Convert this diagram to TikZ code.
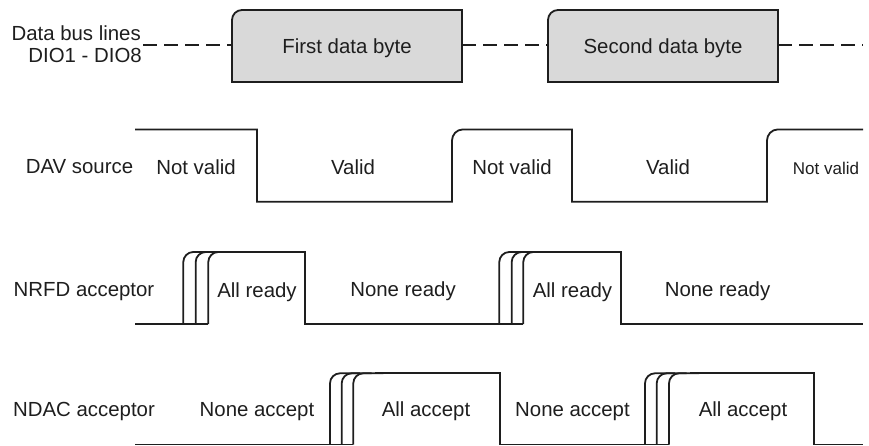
\documentclass[tikz,border=0pt]{standalone}
\usepackage{fontspec}
\setmainfont{Liberation Sans}
\definecolor{linec}{HTML}{1E1E1E}
\definecolor{textc}{HTML}{1E1E1E}
\definecolor{boxfill}{HTML}{D9D9D9}
\begin{document}
\begin{tikzpicture}[x=1pt,y=-1pt,
  sig/.style={line width=1.8pt, draw=linec, line join=miter},
  boxst/.style={line width=1.8pt, draw=linec, fill=boxfill, line join=miter},
  busdash/.style={line width=1.8pt, draw=linec, dash pattern=on 14pt off 7pt},
  lbl/.style={anchor=base, inner sep=0pt, text=textc, font=\fontsize{20.4}{24}\selectfont},
  lbls/.style={lbl, font=\fontsize{17}{20}\selectfont}]
\useasboundingbox (0,0) rectangle (869,446);

% ---------- Data bus row ----------
\coordinate (busL) at (143,45);
\coordinate (busR) at (863,45);
\draw[busdash] (busL) -- (232,45);
\draw[busdash] (462,45) -- (548,45);
\draw[busdash] (778,45) -- (busR);
\draw[boxst] (232,82) -- (232,20) .. controls (232,14.5) and (236.5,10) .. (242,10) -- (462,10) -- (462,82) -- cycle;
\draw[boxst] (548,82) -- (548,20) .. controls (548,14.5) and (552.5,10) .. (558,10) -- (778,10) -- (778,82) -- cycle;
\node[lbl] (b1) at (347,54) {First data byte};
\node[lbl] (b2) at (663,54) {Second data byte};
\node[lbl, anchor=base east] (busA) at (141,41) {Data bus lines};
\node[lbl, anchor=base east] (busB) at (142,63) {DIO1 - DIO8};

% ---------- DAV row ----------
\draw[sig] (135,129.5) -- (257,129.5) -- (257,201.7) -- (452,201.7) -- (452,140.5)
  .. controls (452,134.7) and (456.7,129.5) .. (462.5,129.5) -- (572,129.5) -- (572,201.7) -- (767,201.7)
  -- (767,140.5) .. controls (767,134.7) and (771.7,129.5) .. (777.5,129.5) -- (863,129.5);
\node[lbl] (dav) at (79.5,174) {DAV source};
\node[lbl] (dav1) at (196,175) {Not valid};
\node[lbl] (dav2) at (353,175) {Valid};
\node[lbl] (dav3) at (512,175) {Not valid};
\node[lbl] (dav4) at (668,175) {Valid};
\node[lbls] (dav5) at (826,175) {Not valid};

% ---------- NRFD row ----------
\draw[sig] (135,324) -- (208.3,324);
\foreach \x in {183.3,195.7,208.3}
  \draw[sig] (\x,324) -- (\x,262) .. controls (\x,256.5) and ({\x+4.5},252) .. ({\x+10},252) -- ({\x+30},252);
\draw[sig] (230,252) -- (305,252) -- (305,324) -- (523.3,324);
\foreach \x in {499.3,511.7,523.3}
  \draw[sig] (\x,324) -- (\x,262) .. controls (\x,256.5) and ({\x+4.5},252) .. ({\x+10},252) -- ({\x+30},252);
\draw[sig] (545,252) -- (620.7,252) -- (620.7,324) -- (863,324);
\node[lbl] (nrfd) at (84,296) {NRFD acceptor};
\node[lbl] (nrfd1) at (257,297) {All ready};
\node[lbl] (nrfd2) at (403,296) {None ready};
\node[lbl] (nrfd3) at (572.5,297) {All ready};
\node[lbl] (nrfd4) at (717.5,296) {None ready};

% ---------- NDAC row ----------
\draw[sig] (135,444.5) -- (353.3,444.5);
\foreach \x in {330,341.7,353.3}
  \draw[sig] (\x,444.5) -- (\x,383.3) .. controls (\x,377.8) and ({\x+4.5},373.3) .. ({\x+10},373.3) -- ({\x+30},373.3);
\draw[sig] (375,373.3) -- (500,373.3) -- (500,444.5) -- (669,444.5);
\foreach \x in {645,656.7,669}
  \draw[sig] (\x,444.5) -- (\x,383.3) .. controls (\x,377.8) and ({\x+4.5},373.3) .. ({\x+10},373.3) -- ({\x+30},373.3);
\draw[sig] (690,373.3) -- (814,373.3) -- (814,444.5) -- (863,444.5);
\node[lbl] (ndac) at (84,416) {NDAC acceptor};
\node[lbl] (ndac1) at (257,416) {None accept};
\node[lbl] (ndac2) at (426,416) {All accept};
\node[lbl] (ndac3) at (572.5,416) {None accept};
\node[lbl] (ndac4) at (743,416) {All accept};
\end{tikzpicture}
\end{document}
